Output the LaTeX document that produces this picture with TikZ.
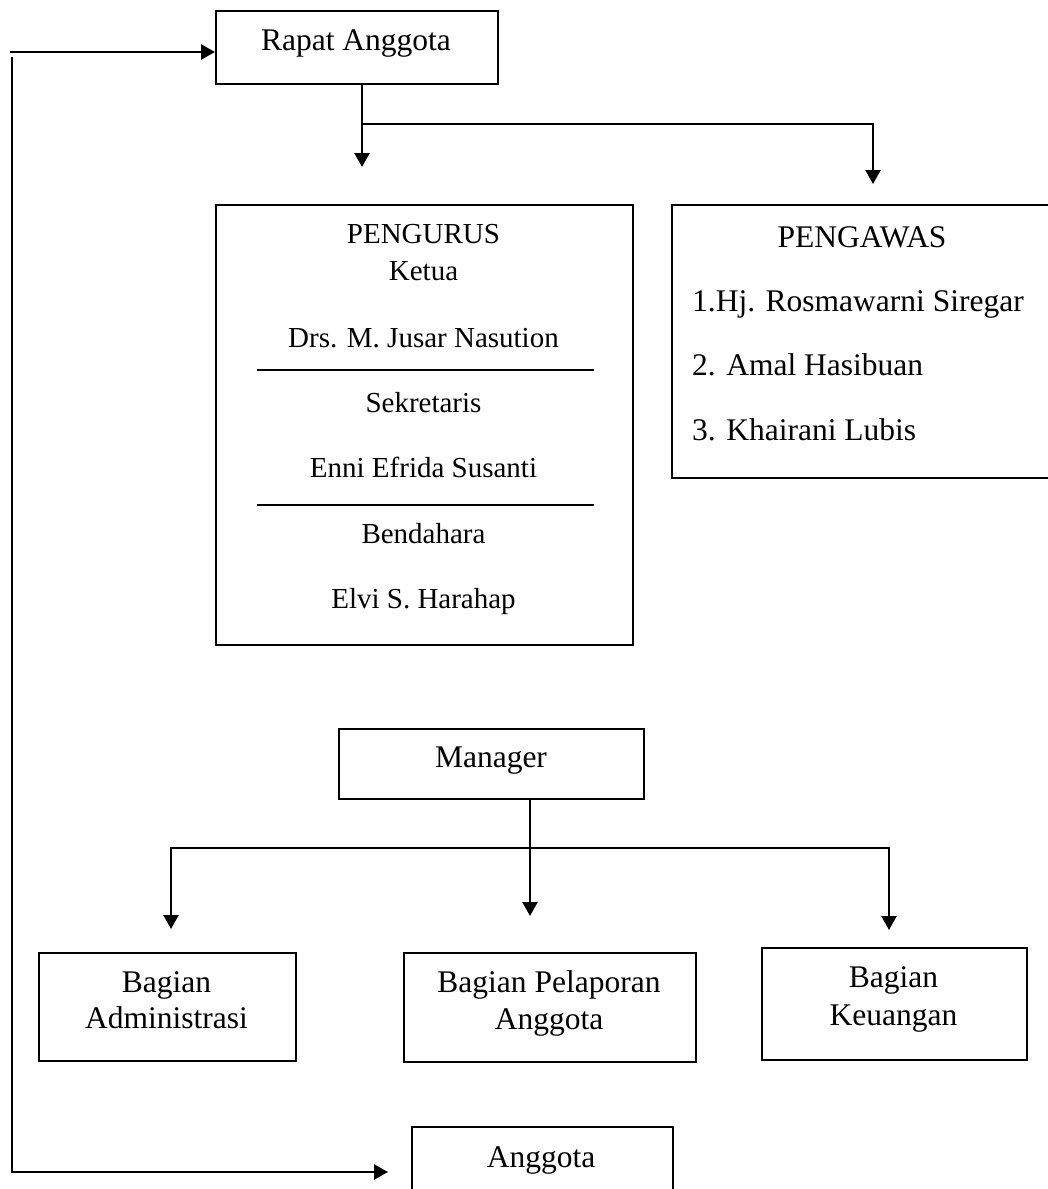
\documentclass[tikz,border=0pt]{standalone}
\usepackage{fontspec}
\setmainfont{Liberation Serif}
\usetikzlibrary{arrows.meta}
\begin{document}
\begin{tikzpicture}[x=1pt,y=-1pt,
  box/.style={draw, line width=1.6pt, inner sep=0pt, anchor=north west},
  conn/.style={line width=2.2pt},
  arr/.style={conn, -{Triangle[length=14pt,width=15pt]}},
  lbl/.style={anchor=base, inner sep=0pt, font=\fontsize{31.5}{36}\selectfont},
  slbl/.style={anchor=base, inner sep=0pt, font=\fontsize{29}{34}\selectfont},
  llbl/.style={lbl, anchor=base west},
  sep/.style={line width=1.6pt}
]
\useasboundingbox (0,0) rectangle (1048,1189);
\clip (0,0) rectangle (1048,1189);

% boxes
\node[box, minimum width=282pt, minimum height=73pt] (rapat) at (215,10) {};
\node[box, minimum width=417pt, minimum height=440pt] (pengurus) at (215,204) {};
\node[box, minimum width=381pt, minimum height=273pt] (pengawas) at (671,204) {};
\node[box, minimum width=305pt, minimum height=70pt] (manager) at (338,728) {};
\node[box, minimum width=257pt, minimum height=108pt] (admin) at (38,952) {};
\node[box, minimum width=292pt, minimum height=109pt] (pelaporan) at (403,952) {};
\node[box, minimum width=265pt, minimum height=112pt] (keuangan) at (761,947) {};
\node[box, minimum width=261pt, minimum height=80pt] (anggota) at (411,1126) {};

% texts
\node[lbl] (tRapat) at (356,50) {Rapat Anggota};
\node[slbl] (tPengurus) at (423.5,243) {PENGURUS};
\node[slbl] (tKetua) at (423.5,280) {Ketua};
\node[slbl] (tKetuaN) at (423.5,347) {Drs. M. Jusar Nasution};
\node[slbl] (tSekr) at (423.5,412) {Sekretaris};
\node[slbl] (tSekrN) at (423.5,477) {Enni Efrida Susanti};
\node[slbl] (tBend) at (423.5,543) {Bendahara};
\node[slbl] (tBendN) at (423.5,608) {Elvi S. Harahap};
\draw[sep] (257,370) -- (594,370);
\draw[sep] (257,505) -- (594,505);

\node[lbl] (tPengawas) at (862,247) {PENGAWAS};
\node[llbl] (tP1) at (692,311) {1.Hj. Rosmawarni Siregar};
\node[llbl] (tP2) at (692,375) {2. Amal Hasibuan};
\node[llbl] (tP3) at (692,440) {3. Khairani Lubis};

\node[lbl] (tManager) at (491,767) {Manager};
\node[lbl] (tAdm1) at (166.5,992) {Bagian};
\node[lbl] (tAdm2) at (166.5,1028) {Administrasi};
\node[lbl] (tPel1) at (549,992) {Bagian Pelaporan};
\node[lbl] (tPel2) at (549,1029) {Anggota};
\node[lbl] (tKeu1) at (893.5,987) {Bagian};
\node[lbl] (tKeu2) at (893.5,1025) {Keuangan};
\node[lbl] (tAnggota) at (541,1167) {Anggota};

% connectors
\coordinate (inL) at (10,52);
\draw[arr] (inL) -- (rapat.west |- inL);
\coordinate (loopA) at (12,57);
\coordinate (outA) at (388,1172);
\draw[arr] (loopA) -- (loopA |- outA) -- (outA);

\coordinate (br1) at (362,124);
\coordinate (tipP) at (362,167);
\coordinate (tipW) at (873,184);
\draw[arr] (rapat.south -| br1) -- (tipP);
\draw[arr] (br1) -| (tipW);

\coordinate (mb) at (530,848);
\coordinate (tipM) at (530,916);
\coordinate (tipA) at (171,929);
\coordinate (tipK) at (889,930);
\draw[arr] (manager.south -| mb) -- (tipM);
\draw[arr] (mb) -| (tipA);
\draw[arr] (mb) -| (tipK);
\end{tikzpicture}
\end{document}
